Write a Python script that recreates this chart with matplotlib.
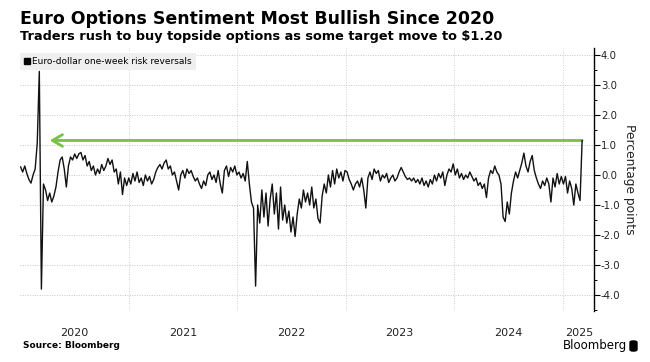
import numpy as np
import pandas as pd
import matplotlib
matplotlib.use("Agg")
import matplotlib.pyplot as plt
from matplotlib.lines import Line2D
from matplotlib.patches import FancyBboxPatch

# weekly euro-dollar one-week risk reversals (Fridays)
rr_2020 = [0.27, 0.1, 0.3, 0.05, -0.15, -0.27,
           0.0, 0.2, 1.05, 3.45, -3.8, -0.3,
           -0.5, -0.85, -0.6, -0.9, -0.7, -0.4,
           0.1, 0.5, 0.6, 0.2, -0.4, 0.3, 0.6, 0.5, 0.7, 0.55, 0.7,
           0.75, 0.5, 0.65, 0.3, 0.45, 0.15, 0.3, 0.0, 0.2, 0.05, 0.35, 0.15,
           0.3, 0.55, 0.35, 0.5, 0.1, 0.2, -0.3, 0.1, -0.65, -0.1, -0.35]
rr_2021 = [-0.1, -0.3, 0.05, -0.2, 0.1, -0.25, -0.1, -0.35, 0.0, -0.2, -0.05,
           -0.3, -0.15, 0.1,
           0.25, 0.35, 0.2, 0.4, 0.5, 0.2,
           0.3, 0.0, 0.1, -0.2, -0.5, 0.0,
           0.15, -0.1, 0.2, 0.05, 0.15,
           -0.05, -0.2, -0.1, -0.3, -0.45, -0.2, -0.35, 0.0,
           0.1, -0.15, 0.0, -0.25, 0.15, -0.3, -0.6,
           0.15, 0.3, -0.05, 0.25, 0.1, 0.3, 0.0]
rr_2022 = [0.1, -0.1, 0.05, -0.2, 0.45,
           -0.3, -0.9, -1.1, -3.7, -1.0,
           -1.6, -0.5, -1.4, -0.6, -1.7, -0.8,
           -0.3, -1.3, -0.6, -1.8, -0.4, -1.5,
           -1.0, -1.6, -1.2, -1.9, -1.4, -2.05, -1.3,
           -0.8, -1.1, -0.5, -0.9,
           -0.6, -1.0, -0.4, -1.1, -0.8, -1.45, -1.6,
           -0.7, -0.3, -0.6, 0.0, -0.4, 0.15, -0.3, 0.2, -0.1, 0.1, -0.2, 0.15]
rr_2023 = [0.1, -0.15, -0.3, -0.5, -0.3,
           -0.2, -0.4, -0.1, -0.5, -1.1,
           -0.1, 0.1, -0.15, 0.2, 0.05, 0.15, -0.2, 0.0,
           -0.1, 0.05, -0.25, -0.1, 0.0, -0.2, -0.1, 0.1,
           0.25, 0.1, -0.05, -0.15, -0.1, -0.2, -0.1, -0.25, -0.15, -0.3,
           -0.1, -0.35, -0.2, -0.4, -0.15, -0.3, 0.0, -0.2, 0.05, -0.1, 0.1, -0.35, 0.0,
           0.2, 0.1, 0.37]
rr_2024 = [0.0, 0.2, -0.1, 0.05, -0.15, 0.0, -0.1, 0.1, -0.05,
           -0.2, -0.1, -0.35, -0.25, -0.45, -0.3, -0.75,
           -0.1, 0.15, 0.05, 0.3, 0.1, 0.0,
           -0.3, -1.4, -1.55, -0.9, -1.3,
           -0.6, -0.2, 0.1, -0.1, 0.15,
           0.4, 0.73, 0.3, 0.1, 0.45, 0.65, 0.15,
           -0.1, -0.3, -0.45, -0.2, -0.35, -0.1,
           -0.3, -0.9, -0.1, -0.4, 0.05, -0.3, -0.05]
rr_2025 = [-0.3, -0.05, -0.6, -0.2, -0.45, -1.0, -0.3, -0.6, -0.85, 1.15]

risk_reversals = rr_2020 + rr_2021 + rr_2022 + rr_2023 + rr_2024 + rr_2025
dates = pd.date_range("2020-01-03", periods=len(risk_reversals), freq="W-FRI")

year_starts = pd.to_datetime(["2021-01-01", "2022-01-01", "2023-01-01",
                              "2024-01-01", "2025-01-01"])
year_labels = ["2020", "2021", "2022", "2023", "2024", "2025"]
label_dates = pd.to_datetime(["2020-07-02", "2021-07-02", "2022-07-02",
                              "2023-07-02", "2024-07-02", "2025-02-25"])
y_ticks = np.arange(-4, 5)
arrow_level = 1.15
arrow_tip = pd.Timestamp("2020-04-10")

fig = plt.figure(figsize=(6.5, 3.62), dpi=100)
ax = fig.add_axes([20 / 650, 51 / 362, 574 / 650, 263 / 362])

ax.plot(dates, risk_reversals, color="#111111", lw=1.0, zorder=3)
ax.annotate("", xy=(arrow_tip, arrow_level), xytext=(dates[-1], arrow_level),
            arrowprops=dict(arrowstyle="->,head_length=0.6,head_width=0.35",
                            color="#7ac142", lw=2, shrinkA=0, shrinkB=0,
                            mutation_scale=12), zorder=2)

ax.set_xlim(pd.Timestamp("2020-01-01"), pd.Timestamp("2025-04-16"))
ax.set_ylim(-4.53, 4.23)

for s in ["top", "left", "bottom"]:
    ax.spines[s].set_visible(False)
ax.spines["right"].set_color("black")
ax.spines["right"].set_linewidth(1.0)

ax.yaxis.tick_right()
ax.yaxis.set_label_position("right")
ax.set_yticks(y_ticks)
ax.set_yticklabels([f"{v:.1f}" for v in y_ticks])
ax.set_yticks(np.arange(-4.5, 4.5, 1.0), minor=True)
ax.tick_params(axis="y", which="major", length=4, width=0.8, pad=1,
               labelsize=7.3, labelcolor="#222222")
ax.tick_params(axis="y", which="minor", length=2.5, width=0.7)

ax.set_xticks(year_starts)
ax.set_xticklabels([])
ax.set_xticks(label_dates, labels=year_labels, minor=True)
ax.tick_params(axis="x", which="both", length=0, pad=12, labelsize=8,
               labelcolor="#222222")

ax.grid(axis="y", which="major", ls=(0, (1, 1.5)), color="#c8c8c8", lw=0.7)
ax.grid(axis="x", which="major", ls=(0, (1, 1.5)), color="#d0d0d0", lw=0.7)

ax.set_ylabel("Percentage points", rotation=270, fontsize=8.8, color="#222222",
              va="center")
ax.yaxis.set_label_coords(1.062, 0.5)

handle = Line2D([], [], marker="s", color="black", ls="none", markersize=4.5)
ax.legend([handle], ["Euro-dollar one-week risk reversals"], loc="upper left",
          bbox_to_anchor=(0, 1 - 5 / 263), frameon=True, fancybox=False,
          facecolor="#efefef", edgecolor="none", framealpha=1, fontsize=6.5,
          handlelength=0.6, handletextpad=0.3, borderpad=0.45, borderaxespad=0)

fig.text(20 / 650, 1 - 19 / 362, "Euro Options Sentiment Most Bullish Since 2020",
         fontsize=12.5, fontweight="bold", va="center")
fig.text(20 / 650, 1 - 36.5 / 362,
         "Traders rush to buy topside options as some target move to $1.20",
         fontsize=9.3, fontweight="bold", va="center")
fig.text(23 / 650, 1 - 346 / 362, "Source: Bloomberg", fontsize=6.5,
         fontweight="bold", va="center")
fig.text(627 / 650, 1 - 346 / 362, "Bloomberg", fontsize=8.5, ha="right",
         va="center")
fig.patches.append(FancyBboxPatch((630 / 650, 1 - 351 / 362), 7 / 650, 10 / 362,
                                  boxstyle="round,pad=0,rounding_size=0.004",
                                  transform=fig.transFigure, color="black"))

fig.savefig("out.png", dpi=100)
